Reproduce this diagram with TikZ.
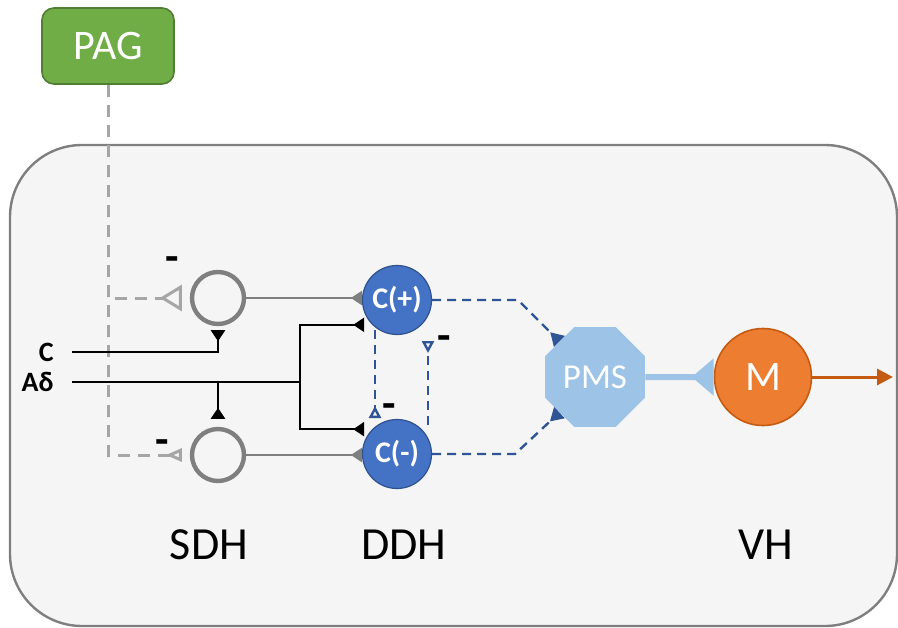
\documentclass[tikz,border=0pt]{standalone}
\usepackage{fontspec}
\setmainfont{Carlito}
\usetikzlibrary{arrows.meta,shapes.geometric}

\definecolor{boxgray}{HTML}{F5F5F5}
\definecolor{linegray}{HTML}{7F7F7F}
\definecolor{dashgray}{HTML}{A6A6A6}
\definecolor{paggreen}{HTML}{70AD47}
\definecolor{pagedge}{HTML}{507E32}
\definecolor{cblue}{HTML}{4472C4}
\definecolor{cbluedge}{HTML}{2F528F}
\definecolor{dashblue}{HTML}{2F5597}
\definecolor{pmsblue}{HTML}{9DC3E6}
\definecolor{morange}{HTML}{ED7D31}
\definecolor{moredge}{HTML}{C55A11}

\tikzset{
  pagbox/.style={rectangle,rounded corners=6pt,fill=paggreen,draw=pagedge,line width=0.8pt,
    minimum width=66pt,minimum height=38pt,text=white,font=\fontsize{21}{21}\selectfont},
  sdhcell/.style={circle,draw=linegray,line width=2.2pt,minimum size=26pt,inner sep=0pt},
  ddhcell/.style={circle,fill=cblue,draw=cbluedge,line width=0.6pt,minimum size=34.5pt,inner sep=0pt,
    text=white,font=\fontsize{15}{15}\selectfont\bfseries},
  pmscell/.style={regular polygon,regular polygon sides=8,fill=pmsblue,minimum size=54pt,inner sep=0pt,
    text=white,font=\fontsize{17.5}{17.5}\selectfont},
  mcell/.style={circle,fill=morange,draw=moredge,line width=0.8pt,minimum size=48.5pt,inner sep=0pt,
    text=white,font=\fontsize{21}{21}\selectfont},
  fibre/.style={inner sep=0pt,font=\fontsize{14}{14}\selectfont\bfseries},
  region/.style={inner sep=0pt,font=\fontsize{23}{23}\selectfont},
  minus/.style={inner sep=0pt,font=\fontsize{22}{22}\selectfont\bfseries},
  fibreln/.style={black,line width=1.2pt},
  grayln/.style={linegray,line width=1pt},
  pagdash/.style={dashgray,line width=1.5pt,dash pattern=on 6pt off 4pt},
  bluedash/.style={dashblue,line width=1.2pt,dash pattern=on 4.5pt off 3pt},
  lbline/.style={pmsblue,line width=3pt},
  orline/.style={moredge,line width=1.5pt},
  syn/.style={-{Triangle[reversed,length=5.5pt,width=7pt]}},
  opensyn/.style={-{Triangle[open,reversed,length=11pt,width=13pt]}},
  smallopen/.style={-{Triangle[open,reversed,length=8pt,width=6.5pt]}},
  blueopen/.style={-{Triangle[open,reversed,length=6pt,width=6pt]}},
  pmssyn/.style={-{Triangle[reversed,length=6.5pt,width=7.5pt]}},
  lbsyn/.style={-{Triangle[reversed,length=11pt,width=18pt]}}
}

\begin{document}
\begin{tikzpicture}[x=0.5pt,y=-0.5pt]
\useasboundingbox (0,0) rectangle (898,627);
\begin{scope}
\clip (0,0) rectangle (898,627);
\draw[draw=linegray,fill=boxgray,line width=1.2pt,rounded corners=36pt] (10,145) rectangle (897,626);
\end{scope}

\node[pagbox] (pag) at (108,46) {PAG};
\node[sdhcell] (s1) at (218,298) {};
\node[sdhcell] (s2) at (218,455) {};
\node[ddhcell] (cp) at (397,300) {C(+)};
\node[ddhcell] (cm) at (397,454) {C(-)};
\node[pmscell] (pms) at (595,377) {PMS};
\node[mcell] (m) at (763,377) {M};
\node[fibre,anchor=east] (c) at (54,352) {C};
\node[fibre,anchor=east] (ad) at (54,382) {Aδ};
\node[region] (sdh) at (209,545) {SDH};
\node[region] (ddh) at (404,545) {DDH};
\node[region] (vh) at (766,545) {VH};
\node[minus] (n1) at (172,264) {-};
\node[minus] (n2) at (162,447) {-};
\node[minus] (n3) at (444,343) {-};
\node[minus] (n4) at (389,411) {-};

\draw[pagdash,opensyn] (pag.south) |- ([xshift=-4pt]s1.west);
\draw[pagdash,smallopen] (pag.south) |- ([xshift=-4pt]s2.west);

\coordinate (br) at (300,382);
\draw[fibreln,syn] ([xshift=9pt]c.east) -| ([yshift=-2pt]s1.south);
\draw[fibreln] ([xshift=9pt]ad.east) -- (br);
\draw[fibreln,syn] (s2.north |- br) -- ([yshift=4pt]s2.north);
\draw[fibreln,syn] (br) |- ([xshift=-4pt]cp.225);
\draw[fibreln,syn] (br) |- ([xshift=-4pt]cm.135);

\draw[grayln,syn] (s1.east) -- (s1.east -| cp.west);
\draw[grayln,syn] (s2.east) -- (s2.east -| cm.west);

\draw[bluedash,blueopen] ([shift={(-22,30)}]cp.center) -- ([shift={(-22,-36)}]cm.center);
\draw[bluedash,blueopen] ([shift={(31,-29)}]cm.center) -- ([shift={(31,41)}]cp.center);

\coordinate (kp) at (518,300);
\coordinate (km) at (515,454);
\draw[bluedash,pmssyn] (cp.east) -- (kp) -- (pms.135);
\draw[bluedash,pmssyn] (cm.east) -- (km) -- (pms.225);

\draw[lbline,lbsyn] (pms.east) -- (m.west);
\coordinate (out) at (893,377);
\draw[orline,-{Triangle[length=8pt,width=8pt]}] (m.east) -- (out);
\end{tikzpicture}
\end{document}
